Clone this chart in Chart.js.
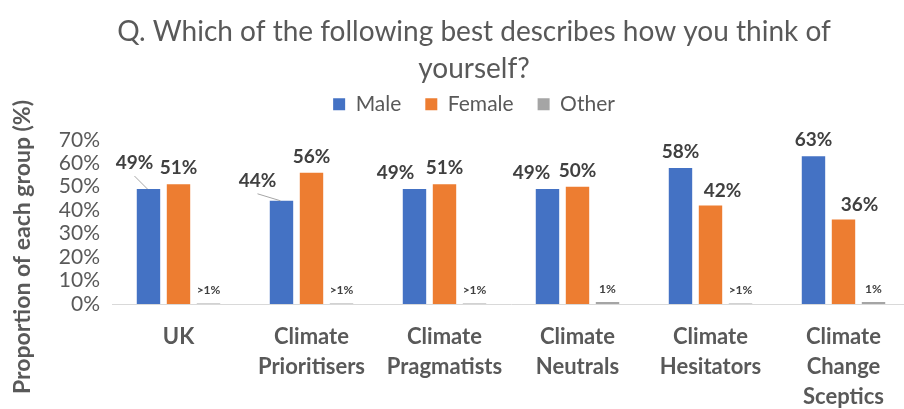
<!DOCTYPE html>
<html><head><meta charset="utf-8">
<script src="https://cdn.jsdelivr.net/npm/chart.js@4/dist/chart.umd.min.js"></script>
<style>html,body{margin:0;padding:0;background:#fff;overflow:hidden}#w{width:948px;height:409px}</style>
</head><body><div id="w"><canvas id="c"></canvas></div>
<script>
const categories = [["UK"],["Climate","Prioritisers"],["Climate","Pragmatists"],["Climate","Neutrals"],["Climate","Hesitators"],["Climate","Change","Sceptics"]];
const male = [49,44,49,49,58,63];
const female = [51,56,51,50,42,36];
const other = [0.2,0.2,0.2,0.8,0.2,0.8];
const maleLabels = ["49%","44%","49%","49%","58%","63%"];
const femaleLabels = ["51%","56%","51%","50%","42%","36%"];
const otherLabels = [">1%",">1%",">1%","1%",">1%","1%"];
const yTicks = [0,10,20,30,40,50,60,70];
const yTitle = "Proportion of each group (%)";

const FONT = "Lato, 'Open Sans', sans-serif";
// label placement tweaks (pixels) to mimic the original's manual label positions
const labelOffsets = [
  {dx:[-14,-24,-19,-16,0,0], dy:[-26,-20,-16,-16,-16,-16]},
  {dx:[0,0,0,0,12,16], dy:[-16,-16,-16,-16,-15,-15]}
];
const labelPlugin = {
  id:'labels',
  afterDatasetsDraw(chart){
    const ctx = chart.ctx;
    const sets = [maleLabels, femaleLabels, otherLabels];
    sets.forEach((labs, di)=>{
      const meta = chart.getDatasetMeta(di);
      meta.data.forEach((bar, i)=>{
        ctx.save();
        ctx.fillStyle = '#404040';
        ctx.textAlign='center';
        ctx.textBaseline='middle';
        const x = bar.x;
        if (di===2){
          ctx.font = "bold 12px " + FONT;
          ctx.fillText(labs[i], x, bar.y - 13);
        } else {
          ctx.font = "bold 19px " + FONT;
          const o = labelOffsets[di];
          ctx.fillText(labs[i], x + o.dx[i], bar.y + o.dy[i]);
          if (di===0 && i<2){
            ctx.strokeStyle='#a6a6a6'; ctx.lineWidth=1;
            ctx.beginPath(); ctx.moveTo(x + o.dx[i], bar.y + o.dy[i] + 13); ctx.lineTo(x - 1, bar.y); ctx.stroke();
          }
        }
        ctx.restore();
      });
    });
    ctx.save();
    ctx.translate(23, 247);
    ctx.rotate(-Math.PI/2);
    ctx.fillStyle = '#595959';
    ctx.font = "bold 23px " + FONT;
    ctx.textAlign='center'; ctx.textBaseline='middle';
    ctx.fillText(yTitle, 0, 0);
    ctx.restore();
  }
};
const spacerPlugin = {
  id:'spacer',
  beforeInit(chart){
    const box = {
      position:'top', weight:500, fullSize:true, options:{},
      left:0, top:0, right:0, bottom:0, width:0, height:0,
      isHorizontal(){ return true; },
      update(maxWidth){ this.width = maxWidth; this.height = 15; },
      draw(){}
    };
    Chart.layouts.addBox(chart, box);
  }
};

new Chart(document.getElementById('c'), {
  type:'bar',
  data:{
    labels: categories,
    datasets:[
      {label:'Male', data:male, backgroundColor:'#4472c4'},
      {label:'Female', data:female, backgroundColor:'#ed7d31'},
      {label:'Other', data:other, backgroundColor:'#a5a5a5'}
    ]
  },
  options:{
    responsive:true, maintainAspectRatio:false, animation:false,
    layout:{padding:{left:38,right:38,top:3,bottom:0}},
    datasets:{bar:{categoryPercentage:0.677, barPercentage:0.78}},
    plugins:{
      title:{display:true, text:["Q. Which of the following best describes how you think of","yourself?"], color:'#595959', font:{family:FONT, size:28, weight:'normal', lineHeight:1.3}, padding:{top:11,bottom:-17}},
      legend:{display:true, labels:{color:'#595959', font:{family:FONT, size:21}, boxWidth:12, boxHeight:12, padding:24}},
      tooltip:{enabled:false}
    },
    scales:{
      x:{grid:{display:false, drawTicks:false}, border:{color:'#d9d9d9', width:1},
         afterFit(s){ s.height = 105; },
         ticks:{color:'#595959', font:{family:FONT, size:22, weight:'bold', lineHeight:1.36}, padding:18, maxRotation:0, autoSkip:false}},
      y:{min:0, max:70, grid:{display:false, drawTicks:false}, border:{display:false},
         afterFit(s){ s.width = 74; },
         afterBuildTicks(ax){ ax.ticks = yTicks.map(v=>({value:v})); },
         ticks:{color:'#595959', font:{family:FONT, size:21}, padding:12, autoSkip:false, callback:v=>v+'%'}}
    }
  },
  plugins:[labelPlugin, spacerPlugin]
});
</script></body></html>
